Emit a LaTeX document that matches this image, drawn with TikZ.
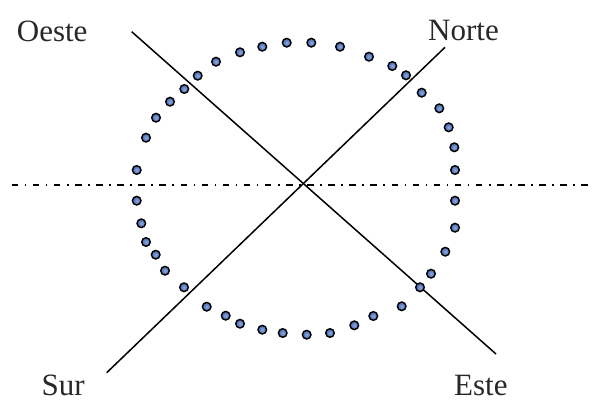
\documentclass[tikz,border=0pt]{standalone}
\usepackage{fontspec}
\setmainfont{Liberation Serif}
\begin{document}
\begin{tikzpicture}[x=1pt,y=-1pt,
  dot/.style={circle,draw=black,line width=1.4pt,minimum size=8.6pt,inner sep=0pt,
    inner color={rgb,255:red,140;green,170;blue,225},outer color={rgb,255:red,70;green,100;blue,170}},
  lbl/.style={anchor=base west,inner sep=0pt,text depth=0pt,font=\fontsize{31}{36}\selectfont,text={rgb,255:red,40;green,40;blue,40}},
  axis/.style={line width=1.5pt,black},
  dashdot/.style={line width=1.5pt,dash pattern=on 6.5pt off 6.5pt on 1.6pt off 6.5pt}]
\useasboundingbox (0,0) rectangle (595,401);
\fill[white] (0,0) rectangle (595,401);
% dash-dot horizontal
\coordinate (hl) at (11.7,185);
\coordinate (hr) at (591.7,185);
\draw[dashdot] (hl) -- (hr);
% diagonals
\coordinate (oA) at (131.7,31.7);
\coordinate (oB) at (496,354);
\coordinate (nA) at (106.7,372.7);
\coordinate (nB) at (445,47.3);
\draw[axis] (oA) -- (oB);
\draw[axis] (nA) -- (nB);
% dots
\foreach \px/\py [count=\i] in {
136.7/170, 146/137.7, 156/117.7, 170/101.7, 184.3/89, 197.7/75.7, 216/61.7,
240/52.3, 262.3/46.7, 286.7/42.7, 311.3/42.7, 340/46.7, 369/56.7, 392.3/66,
406/75.3, 421.7/92.7, 439.3/108.3, 448.7/127.3, 454.3/147.3, 455/170,
136.7/200.7, 141.3/223.3, 146/242, 155.7/254.7, 165/270.7, 184/287.3,
206.7/306.7, 225.7/315.7, 240/323.7, 262.3/329.7, 282.7/333, 306.7/334.7,
330/333, 354.3/325.3, 373.3/316, 401.7/306.3, 420/287.3, 431/273.7,
445.3/251.7, 455/227.7, 455/200.7}
  \node[dot] (d\i) at (\px,\py) {};
% labels
\node[lbl] (oeste) at (16.7,41.5) {Oeste};
\node[lbl] (norte) at (428,41) {Norte};
\node[lbl] (sur) at (41.5,395) {Sur};
\node[lbl] (este) at (454,395) {Este};
\end{tikzpicture}
\end{document}
